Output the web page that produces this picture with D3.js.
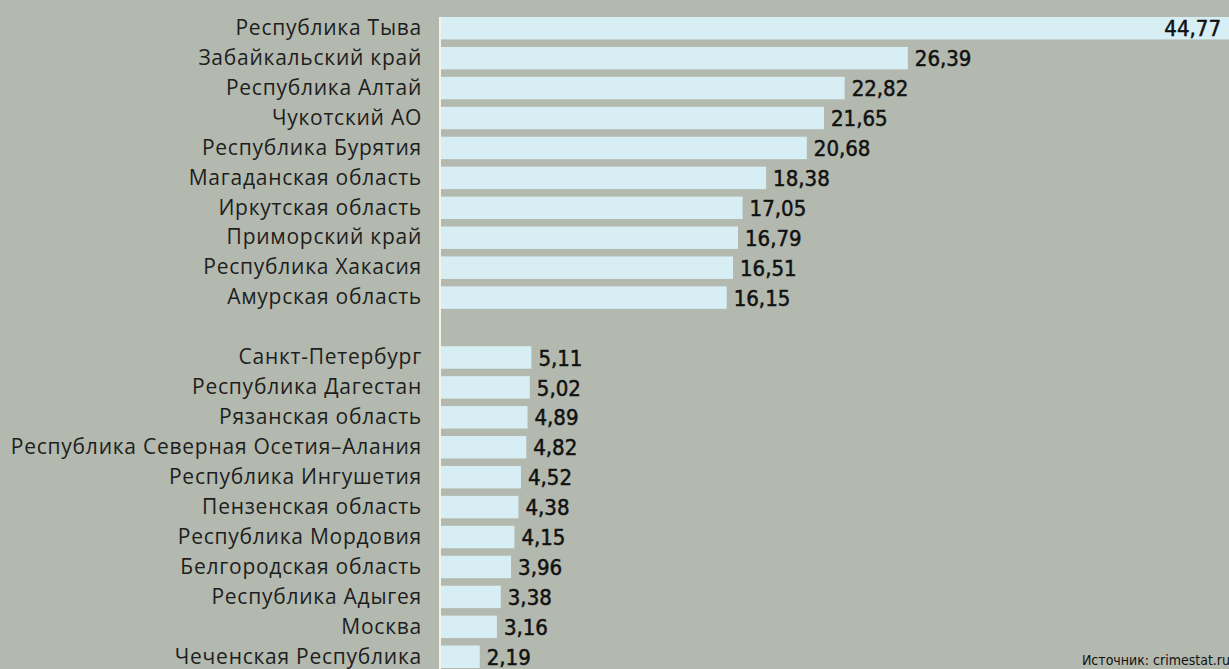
<!DOCTYPE html>
<html>
<head>
<meta charset="utf-8">
<script src="https://cdn.jsdelivr.net/npm/d3@7"></script>
<style>
  body { margin: 0; background: #b3b9ae; }
  svg { display: block; }
  .y.axis text { font-family: "Open Sans", sans-serif; font-size: 21px; letter-spacing: 0.75px; fill: #1e1e1e; }
  .y.axis .domain { stroke: #f4f3e6; stroke-width: 2; }
  .val { font-family: "DejaVu Sans Condensed", sans-serif; font-size: 22px; fill: #111; stroke: #111; stroke-width: 0.5; }
  .src { font-family: "DejaVu Sans Condensed", sans-serif; font-size: 14px; fill: #111; }
</style>
</head>
<body>
<div id="chart"></div>
<script>
// regions, top group and bottom group (rate per 100k)
var topRegions = ["Республика Тыва", "Забайкальский край", "Республика Алтай", "Чукотский АО",
  "Республика Бурятия", "Магаданская область", "Иркутская область", "Приморский край",
  "Республика Хакасия", "Амурская область"];
var topValues = [44.77, 26.39, 22.82, 21.65, 20.68, 18.38, 17.05, 16.79, 16.51, 16.15];

var bottomRegions = ["Санкт-Петербург", "Республика Дагестан", "Рязанская область",
  "Республика Северная Осетия–Алания", "Республика Ингушетия", "Пензенская область",
  "Республика Мордовия", "Белгородская область", "Республика Адыгея", "Москва", "Чеченская Республика"];
var bottomValues = [5.11, 5.02, 4.89, 4.82, 4.52, 4.38, 4.15, 3.96, 3.38, 3.16, 2.19];

var sourceText = "Источник: crimestat.ru";

var width = 1229, height = 669;
var margin = {top: 17, left: 441};

var data = topRegions.map(function(d, i) { return {name: d, value: topValues[i]}; })
  .concat(bottomRegions.map(function(d, i) { return {name: d, value: bottomValues[i]}; }));

// empty row between the two groups
var rows = topRegions.concat([" "]).concat(bottomRegions);

var x = d3.scaleLinear()
    .domain([0, 45])
    .range([margin.left, margin.left + 796]);

var y = d3.scaleBand()
    .domain(rows)
    .range([margin.top, 668])
    .paddingInner(0.25)
    .paddingOuter(0);

const svg = d3.select("#chart")
    .append("svg")
    .attr("width", width)
    .attr("height", height);

svg.selectAll("rect.bar")
    .data(data)
    .enter().append("rect")
    .attr("class", "bar")
    .attr("x", x(0))
    .attr("y", d => y(d.name))
    .attr("width", d => x(d.value) - x(0))
    .attr("height", y.bandwidth())
    .attr("fill", "#d7eef4");

var yAxis = d3.axisLeft(y)
    .tickValues(topRegions.concat(bottomRegions))
    .tickSize(0)
    .tickPadding(18);

svg.append("g")
    .attr("class", "y axis")
    .attr("transform", "translate(" + (x(0) - 1) + ",0)")
    .call(yAxis);

svg.select(".y.axis .domain").attr("d", "M0," + margin.top + "V" + height);

var fmt = d3.format(".2f");

svg.selectAll("text.val")
    .data(data)
    .enter().append("text")
    .attr("class", "val")
    .attr("x", function(d) {
      var end = x(d.value);
      return end > width - 80 ? Math.min(end, width) - 8 : end + 7;
    })
    .attr("text-anchor", d => x(d.value) > width - 80 ? "end" : "start")
    .attr("y", d => y(d.name) + y.bandwidth() / 2)
    .attr("dy", "0.37em")
    .text(d => fmt(d.value).replace(".", ","));

svg.append("text")
    .attr("class", "src")
    .attr("x", width + 1)
    .attr("y", height - 4)
    .attr("text-anchor", "end")
    .text(sourceText);
</script>
</body>
</html>
